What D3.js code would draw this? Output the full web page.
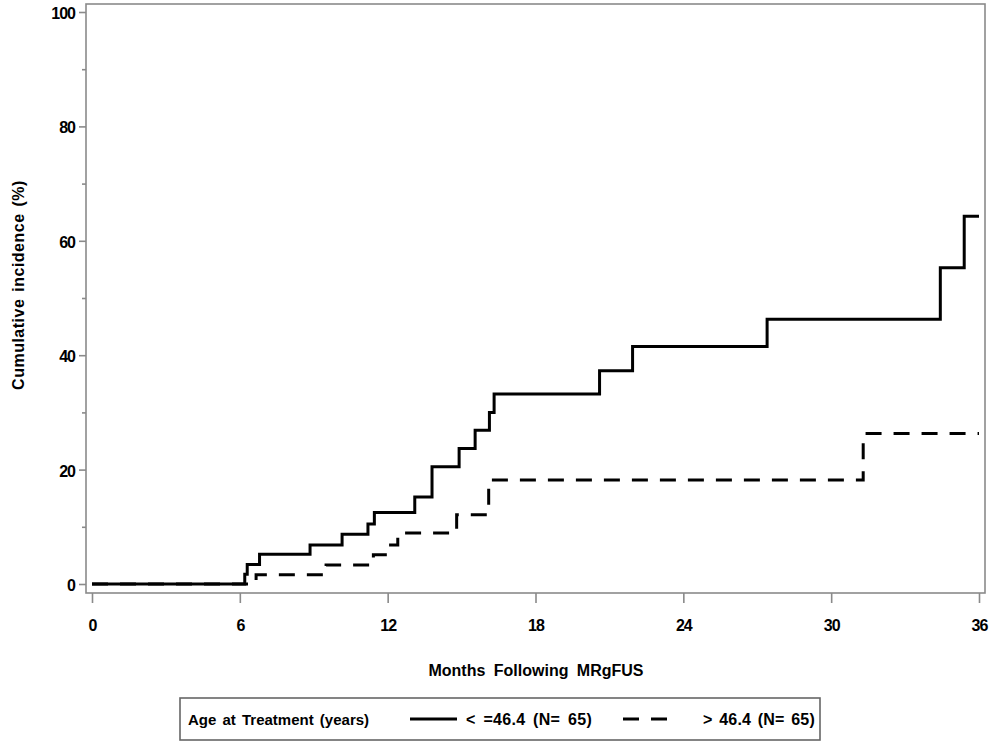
<!DOCTYPE html>
<html>
<head>
<meta charset="utf-8">
<script src="https://cdn.jsdelivr.net/npm/d3@7"></script>
<style>
  html, body { margin: 0; padding: 0; background: #fff; }
  svg { display: block; }
  text { font-family: "Liberation Sans", Arial, sans-serif; fill: #000; }
</style>
</head>
<body>
<svg id="chart" width="1000" height="750"></svg>
<script>
// ---- data ----
const youngTimes  = [0, 6.2, 6.3, 6.8, 8.85, 10.15, 11.2, 11.46, 13.1, 13.8, 14.9, 15.55, 16.13, 16.32, 20.6, 21.94, 27.4, 34.43, 35.4, 36];
const youngValues = [0, 1.7, 3.4, 5.2, 6.8, 8.7, 10.5, 12.5, 15.2, 20.5, 23.7, 26.9, 30.0, 33.2, 37.3, 41.5, 46.3, 55.3, 64.3, 64.3];
const oldTimes    = [0, 6.66, 9.5, 11.42, 12.0, 12.41, 14.8, 16.1, 31.3, 36];
const oldValues   = [0, 1.6, 3.3, 5.1, 6.8, 8.9, 12.1, 18.2, 26.3, 26.3];
const xTicks = [0, 6, 12, 18, 24, 30, 36];
const yTicks = [0, 20, 40, 60, 80, 100];
const yMinorTicks = [10, 30, 50, 70, 90];
const seriesNames = ["< =46.4 (N= 65)", "> 46.4 (N= 65)"];
const legendTitle = "Age at Treatment (years)";
const xTitle = "Months Following MRgFUS";
const yTitle = "Cumulative incidence (%)";

// ---- layout ----
const svg = d3.select("#chart");
const frame = { left: 86, right: 985, top: 4, bottom: 593 };
const x = d3.scaleLinear().domain([0, 36]).range([92, 979]);
const y = d3.scaleLinear().domain([0, 100]).range([584, 12]);
const axisColor = "#8a8a8a";
const fontFam = "'Liberation Sans', Arial, sans-serif";

// frame
svg.append("rect")
  .attr("x", frame.left).attr("y", frame.top)
  .attr("width", frame.right - frame.left).attr("height", frame.bottom - frame.top)
  .attr("fill", "none").attr("stroke", axisColor).attr("stroke-width", 1.6);

// x axis
const xAxis = svg.append("g").attr("transform", `translate(0,${frame.bottom})`)
  .call(d3.axisBottom(x).tickValues(xTicks).tickSize(10).tickPadding(17).tickFormat(d3.format("d")));
xAxis.select(".domain").remove();
xAxis.selectAll("line").attr("stroke", axisColor).attr("stroke-width", 1.6);
xAxis.selectAll("text").attr("font-size", 16).attr("font-weight", "bold")
  .attr("letter-spacing", "-1px").style("font-family", fontFam).attr("fill", "#000");

// y axis
const yAxis = svg.append("g").attr("transform", `translate(${frame.left},0)`)
  .call(d3.axisLeft(y).tickValues(yTicks).tickSize(7).tickPadding(4).tickFormat(d3.format("d")));
yAxis.select(".domain").remove();
yAxis.selectAll("line").attr("stroke", axisColor).attr("stroke-width", 1.6);
yAxis.selectAll("text").attr("font-size", 16).attr("font-weight", "bold")
  .attr("letter-spacing", "-1px").attr("dy", "0.4em").style("font-family", fontFam).attr("fill", "#000");

const yMinor = svg.append("g").attr("transform", `translate(${frame.left},0)`)
  .call(d3.axisLeft(y).tickValues(yMinorTicks).tickSize(4).tickFormat(""));
yMinor.select(".domain").remove();
yMinor.selectAll("line").attr("stroke", axisColor).attr("stroke-width", 1.6);

// titles
svg.append("text").attr("x", 536).attr("y", 676).attr("text-anchor", "middle")
  .attr("font-size", 16).attr("font-weight", "bold").attr("word-spacing", "4px")
  .text(xTitle);
svg.append("text").attr("transform", "translate(24,285) rotate(-90)").attr("text-anchor", "middle")
  .attr("font-size", 16).attr("font-weight", "bold").attr("letter-spacing", "0.5px").attr("word-spacing", "2px")
  .text(yTitle);

// curves
const line = d3.line().x(d => x(d[0])).y(d => y(d[1])).curve(d3.curveStepAfter);
const youngData = youngTimes.map((t, i) => [t, youngValues[i]]);
const oldData = oldTimes.map((t, i) => [t, oldValues[i]]);

svg.append("path").datum(oldData).attr("d", line)
  .attr("fill", "none").attr("stroke", "#000").attr("stroke-width", 3)
  .attr("stroke-dasharray", "16,12");
svg.append("path").datum(youngData).attr("d", line)
  .attr("fill", "none").attr("stroke", "#000").attr("stroke-width", 3);

// legend
const lg = svg.append("g");
lg.append("rect").attr("x", 180).attr("y", 698).attr("width", 640).attr("height", 42)
  .attr("fill", "#fff").attr("stroke", "#666").attr("stroke-width", 1.6);
const ly = 725;
lg.append("text").attr("x", 188).attr("y", ly).attr("font-size", 15).attr("font-weight", "bold")
  .attr("word-spacing", "2px").text(legendTitle);
lg.append("line").attr("x1", 410).attr("x2", 457).attr("y1", 719).attr("y2", 719)
  .attr("stroke", "#000").attr("stroke-width", 3);
lg.append("text").attr("x", 466).attr("y", ly).attr("font-size", 16).attr("font-weight", "bold")
  .attr("letter-spacing", "0.3px").attr("word-spacing", "3px").text(seriesNames[0]);
lg.append("line").attr("x1", 623).attr("x2", 667).attr("y1", 719).attr("y2", 719)
  .attr("stroke", "#000").attr("stroke-width", 3).attr("stroke-dasharray", "16,12");
lg.append("text").attr("x", 703).attr("y", ly).attr("font-size", 16).attr("font-weight", "bold")
  .attr("letter-spacing", "0.2px").attr("word-spacing", "2px").text(seriesNames[1]);
</script>
</body>
</html>
